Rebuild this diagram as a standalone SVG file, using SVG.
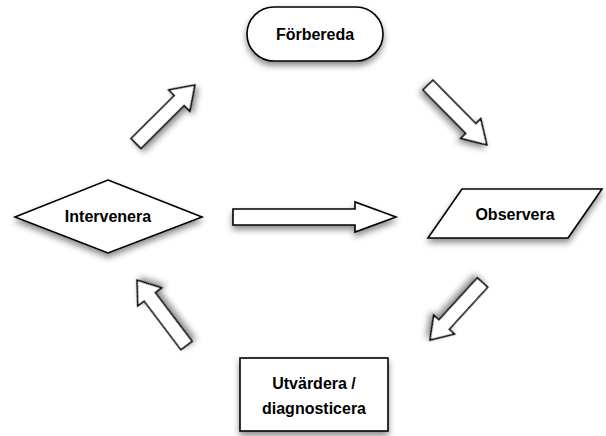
<svg xmlns="http://www.w3.org/2000/svg" width="606" height="436" viewBox="0 0 606 436">
<defs>
<filter id="sh" x="-20%" y="-20%" width="140%" height="160%">
<feDropShadow dx="0" dy="4" stdDeviation="3" flood-color="#000" flood-opacity="0.45"/>
</filter>
<style>
.s{fill:#fff;stroke:#000;stroke-width:1.6;filter:url(#sh)}
.t{font-family:"Liberation Sans",Arial,sans-serif;font-weight:bold;font-size:16px;fill:#000;text-anchor:middle}
</style>
</defs>
<rect width="606" height="436" fill="#fff"/>
<g id="connectors">
<polygon class="s" transform="translate(136,143.5) rotate(-44.8)" points="0,-7 61,-7 61,-15 83,0 61,15 61,7 0,7"/>
<polygon class="s" transform="translate(428,85) rotate(45.5)" points="0,-7 61,-7 61,-14 84,0 61,14 61,7 0,7"/>
<polygon class="s" transform="translate(233,217)" points="0,-8 122,-8 122,-15 163,0 122,15 122,8 0,8"/>
<polygon class="s" transform="translate(482.5,282.5) rotate(132.4)" points="0,-7 57,-7 57,-14 78,0 57,14 57,7 0,7"/>
<polygon class="s" transform="translate(186.5,345.5) rotate(-127.1)" points="0,-7 61,-7 61,-15 82,0 61,15 61,7 0,7"/>
</g>
<g id="forbereda">
<rect class="s" x="247" y="7" width="136" height="54" rx="27" ry="27"/>
<text class="t" x="315" y="40">Förbereda</text>
</g>
<g id="intervenera">
<polygon class="s" points="108,180 202,217 108,253 15,217"/>
<text class="t" x="108" y="222">Intervenera</text>
</g>
<g id="observera">
<polygon class="s" points="462,189 602,189 568,238 428,238"/>
<text class="t" x="515" y="220">Observera</text>
</g>
<g id="utvardera">
<rect class="s" x="240" y="358" width="148" height="73"/>
<text class="t" x="314" y="389">Utvärdera /</text>
<text class="t" x="314" y="414">diagnosticera</text>
</g>
</svg>
